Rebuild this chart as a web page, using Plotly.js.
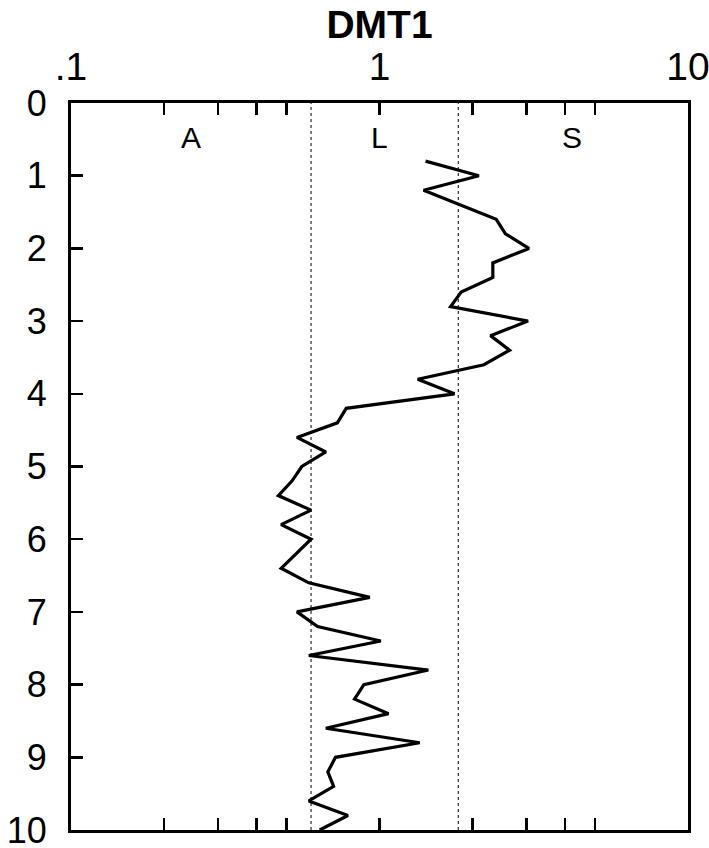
<!DOCTYPE html>
<html>
<head>
<meta charset="utf-8">
<script src="https://cdn.plot.ly/plotly-3.0.1.min.js"></script>
<style>html,body{margin:0;padding:0;background:#fff;}#chart{width:709px;height:848px;}</style>
</head>
<body>
<div id="chart"></div>
<script>
// Depth (y) and DMT1 value (x, log scale)
const depth = [0.8, 1.0, 1.2, 1.6, 1.8, 2.0, 2.2, 2.4, 2.6, 2.8, 3.0, 3.2, 3.4, 3.6, 3.8, 4.0,
  4.2, 4.4, 4.6, 4.8, 5.0, 5.2, 5.4, 5.6, 5.8, 6.0, 6.4, 6.6, 6.8, 7.0, 7.2, 7.4, 7.6, 7.8,
  8.0, 8.2, 8.4, 8.6, 8.8, 9.0, 9.2, 9.4, 9.6, 9.8, 10.0];
const dmt1 = [1.41, 2.10, 1.39, 2.39, 2.56, 3.05, 2.33, 2.33, 1.84, 1.70, 3.03, 2.29, 2.64, 2.18, 1.33, 1.75,
  0.78, 0.73, 0.54, 0.67, 0.56, 0.52, 0.47, 0.60, 0.48, 0.60, 0.48, 0.59, 0.93, 0.54, 0.63, 1.01, 0.59, 1.44,
  0.89, 0.83, 1.07, 0.67, 1.35, 0.72, 0.68, 0.71, 0.59, 0.79, 0.64];

// Zone boundaries and zone labels
const boundaries = [0.6, 1.8];
const zoneLabels = ['A', 'L', 'S'];
const zoneLabelX = [0.245, 1.0, 4.2];
const zoneLabelDepth = 0.47;

// Axis ticks
const xTickVals = [0.1, 0.2, 0.3, 0.4, 0.5, 1, 2, 3, 4, 5, 10];
const xTickText = ['.1', '', '', '', '', '1', '', '', '', '', '10'];
const yTickVals = [0, 1, 2, 3, 4, 5, 6, 7, 8, 9, 10];
const yTickText = ['0', '1', '2', '3', '4', '5', '6', '7', '8', '9', '10'];

const FONT = 'Liberation Sans, Arial, sans-serif';

const traces = [
  {
    x: dmt1, y: depth, type: 'scatter', mode: 'lines',
    line: {color: '#000', width: 3.2}, hoverinfo: 'none', showlegend: false
  }
];

const shapes = boundaries.map(b => ({
  type: 'line', xref: 'x', yref: 'paper', x0: b, x1: b, y0: 0, y1: 1,
  line: {color: '#000', width: 1, dash: 'dot'}, layer: 'below'
}));

const annotations = zoneLabels.map((t, i) => ({
  text: t, x: Math.log10(zoneLabelX[i]), y: zoneLabelDepth, xref: 'x', yref: 'y',
  showarrow: false, font: {family: FONT, size: 30, color: '#000'}, xanchor: 'center', yanchor: 'middle'
}));

const layout = {
  width: 709, height: 848,
  margin: {l: 71, r: 21, t: 103, b: 18},
  paper_bgcolor: '#fff', plot_bgcolor: '#fff',
  font: {family: FONT, color: '#000'},
  title: {
    text: '<b>DMT1</b>', font: {family: FONT, size: 39, color: '#000'},
    x: 0.5, xref: 'paper', xanchor: 'center', y: 0.971, yref: 'container', yanchor: 'middle'
  },
  xaxis: {
    type: 'log', range: [-1, 1], side: 'top',
    tickmode: 'array', tickvals: xTickVals, ticktext: xTickText,
    ticks: 'inside', ticklen: 12, tickwidth: 2.5, tickcolor: '#000',
    showline: true, linewidth: 3, linecolor: '#000', mirror: 'ticks',
    showgrid: false, zeroline: false,
    tickfont: {family: FONT, size: 39, color: '#000'}, ticklabelstandoff: 4,
    ticklabeloverflow: 'allow'
  },
  yaxis: {
    range: [10, 0],
    tickmode: 'array', tickvals: yTickVals, ticktext: yTickText,
    ticks: 'inside', ticklen: 12, tickwidth: 2.5, tickcolor: '#000',
    showline: true, linewidth: 3, linecolor: '#000', mirror: true,
    showgrid: false, zeroline: false,
    tickfont: {family: FONT, size: 36, color: '#000'}, ticklabelstandoff: 14,
    ticklabeloverflow: 'allow'
  },
  shapes: shapes,
  annotations: annotations
};

Plotly.newPlot('chart', traces, layout, {displayModeBar: false, staticPlot: true});
</script>
</body>
</html>
